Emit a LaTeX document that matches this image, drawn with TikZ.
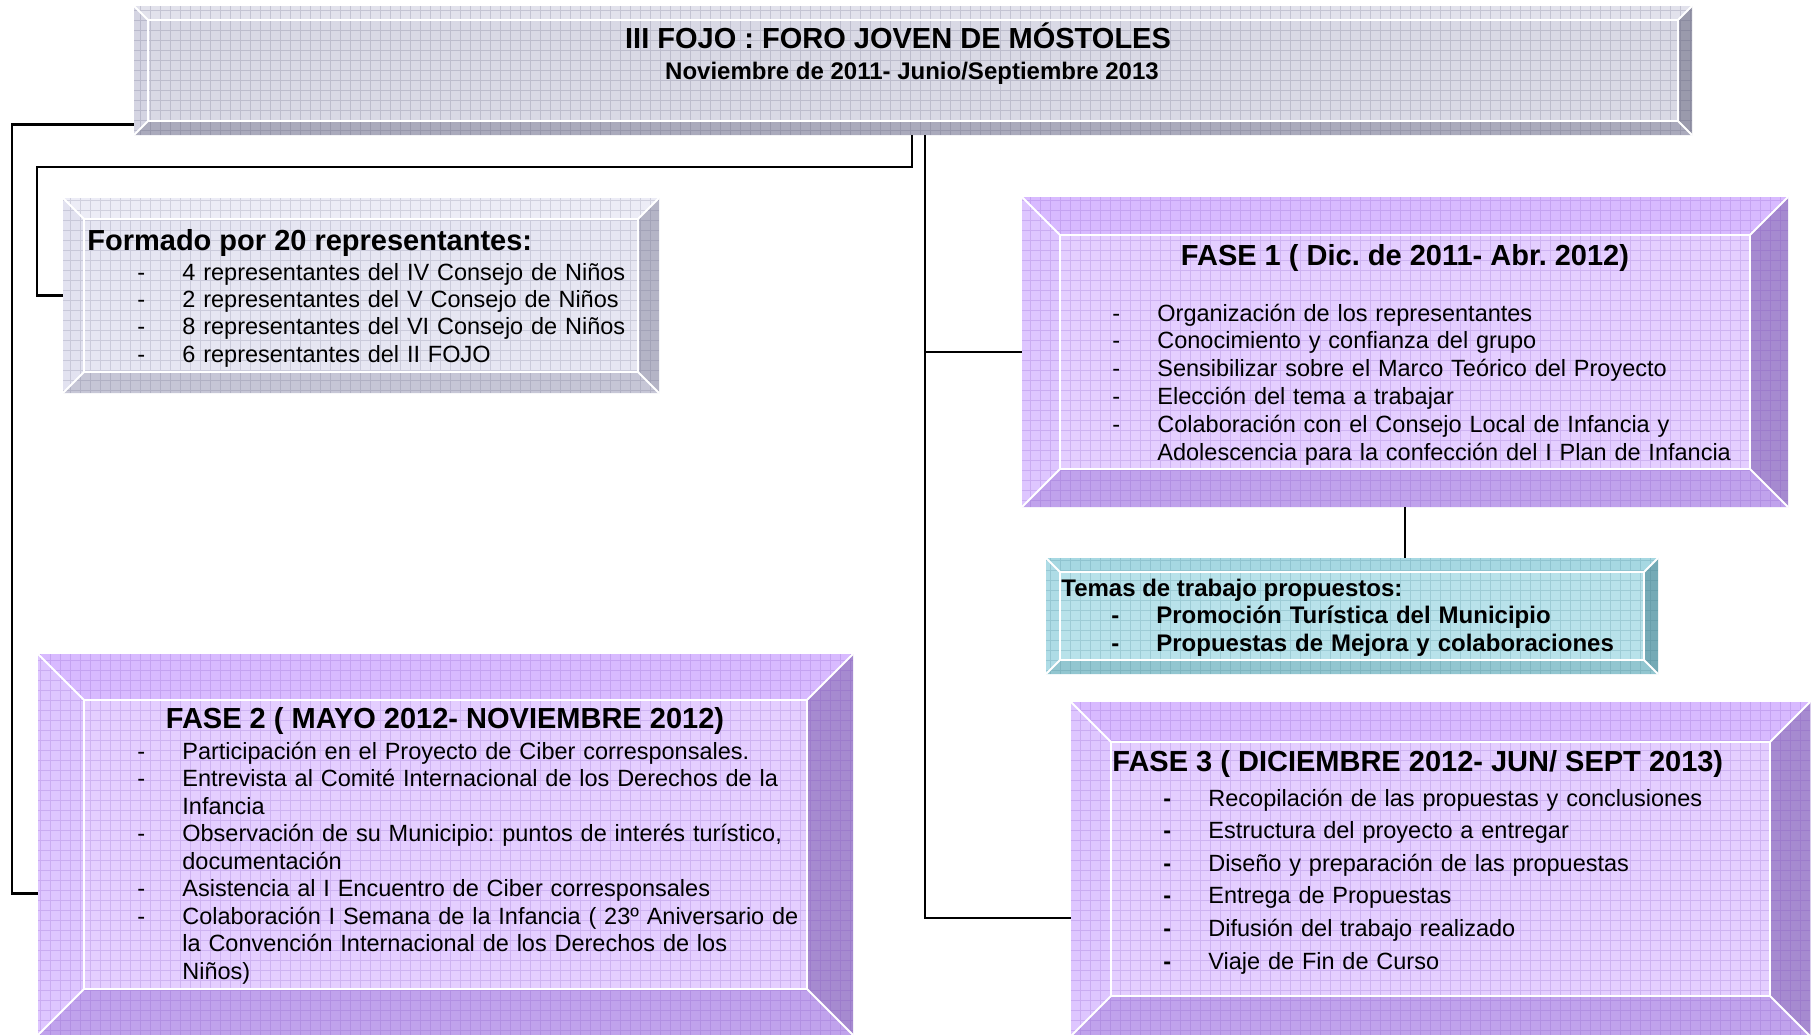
\documentclass[tikz,border=0pt]{standalone}
\usepackage{fontspec}
\setmainfont{Liberation Sans}
\usetikzlibrary{fit}
\frenchspacing

% box colours
\definecolor{grisface}{HTML}{D9D9E5}
\definecolor{gristop}{HTML}{E2E2EC}
\definecolor{grisleft}{HTML}{D4D4E2}
\definecolor{grisright}{HTML}{9A9AAC}
\definecolor{grisbottom}{HTML}{AAAABC}
\definecolor{grisgrid}{HTML}{505070}
\definecolor{paleface}{HTML}{E6E6F2}
\definecolor{paletop}{HTML}{ECECF6}
\definecolor{paleleft}{HTML}{E2E2F0}
\definecolor{paleright}{HTML}{B4B4C6}
\definecolor{palebottom}{HTML}{C6C6D6}
\definecolor{palegrid}{HTML}{606080}
\definecolor{lilaface}{HTML}{E4CEFF}
\definecolor{lilatop}{HTML}{D8BAFF}
\definecolor{lilaleft}{HTML}{DEC6FF}
\definecolor{lilaright}{HTML}{A68AD0}
\definecolor{lilabottom}{HTML}{C0A2EC}
\definecolor{lilagrid}{HTML}{7A48C0}
\definecolor{tealface}{HTML}{B8E2EA}
\definecolor{tealtop}{HTML}{A6D8E2}
\definecolor{tealleft}{HTML}{AEDCE6}
\definecolor{tealright}{HTML}{74AAB6}
\definecolor{tealbottom}{HTML}{92C6D0}
\definecolor{tealgrid}{HTML}{3A7688}

% bevelled box: name, x1, y1, x2, y2, bevel, colour set
\newcommand{\bevelbox}[7]{%
  \fill[#7face] (#2,#3) rectangle (#4,#5);
  \fill[#7top] (#2,#3) -- (#4,#3) -- ({#4-#6},{#3+#6}) -- ({#2+#6},{#3+#6}) -- cycle;
  \fill[#7left] (#2,#3) -- ({#2+#6},{#3+#6}) -- ({#2+#6},{#5-#6}) -- (#2,#5) -- cycle;
  \fill[#7right] (#4,#3) -- (#4,#5) -- ({#4-#6},{#5-#6}) -- ({#4-#6},{#3+#6}) -- cycle;
  \fill[#7bottom] (#2,#5) -- (#4,#5) -- ({#4-#6},{#5-#6}) -- ({#2+#6},{#5-#6}) -- cycle;
  \draw[#7grid, draw opacity=0.2, line width=0.35pt, xstep=10, ystep=-10] (#2,#3) grid (#4,#5);
  \draw[white, line width=1pt] ({#2+#6},{#3+#6}) rectangle ({#4-#6},{#5-#6});
  \draw[white, line width=1pt] (#2,#3) -- ({#2+#6},{#3+#6}) (#4,#3) -- ({#4-#6},{#3+#6})
    (#2,#5) -- ({#2+#6},{#5-#6}) (#4,#5) -- ({#4-#6},{#5-#6});
  \node[fit={(#2,#3) (#4,#5)}, inner sep=0] (#1) {};
}
\newcommand{\guion}{\makebox[22.5pt][l]{-}}
\newcommand{\guionb}{\makebox[22.5pt][l]{\textbf{-}}}
\newcommand{\sigue}{\hspace*{22.5pt}}

\begin{document}
\begin{tikzpicture}[x=0.5pt,y=-0.5pt,
  link/.style={draw=black, line width=1.1pt},
  head/.style={inner sep=0, font=\bfseries\fontsize{14.5}{17}\selectfont},
  subhead/.style={inner sep=0, font=\bfseries\fontsize{12}{14}\selectfont},
  items/.style={anchor=base west, inner sep=0, text width=340pt, align=left,
    font=\fontsize{11.75}{#1}\selectfont},
  items/.default=13.9pt]
\useasboundingbox (0,0) rectangle (1814,1034);
\fill[white] (0,0) rectangle (1814,1034);

% Boxes
\bevelbox{ttl}{134}{6}{1692}{135}{14}{gris}
\bevelbox{formado}{63}{198}{659}{393}{21}{pale}
\bevelbox{fase1}{1022}{197}{1788}{507}{38}{lila}
\bevelbox{temas}{1046}{558}{1658}{674}{14}{teal}
\bevelbox{fase2}{38}{654}{853}{1035}{46}{lila}
\bevelbox{fase3}{1071}{702}{1810}{1036}{40}{lila}

% Connectors
\draw[link] ([yshift=5.5pt]ttl.south west) -- ++(-122,0) |- ([yshift=-24.5pt]fase2.west);
\draw[link] ([xshift=-0.5pt]ttl.south) |- (37,167) |- (formado.west);
\draw[link] ([xshift=6pt]ttl.south) |- ([yshift=-24.5pt]fase3.west);
\draw[link] ([xshift=6pt]ttl.south |- fase1.west) -- (fase1.west);
\draw[link] (fase1.south) -- (fase1.south |- temas.north);

% Title
\node[head, anchor=base] (ttlA) at (898,48) {III FOJO : FORO JOVEN DE MÓSTOLES};
\node[subhead, anchor=base] (ttlB) at (912,79) {Noviembre de 2011- Junio/Septiembre 2013};

% Representantes
\node[head, anchor=base west] (formadoA) at (87,250) {Formado por 20 representantes:};
\node[items=13.7pt] (formadoL) at (137,280) {\guion 4 representantes del IV Consejo de Niños\\
\guion 2 representantes del V Consejo de Niños\\
\guion 8 representantes del VI Consejo de Niños\\
\guion 6 representantes del II FOJO};

% Fase 1
\node[head, anchor=base] (fase1A) at (1405,265) {FASE 1 ( Dic. de 2011- Abr. 2012)};
\node[items=13.9pt] (fase1L) at (1112,321) {\guion Organización de los representantes\\
\guion Conocimiento y confianza del grupo\\
\guion Sensibilizar sobre el Marco Teórico del Proyecto\\
\guion Elección del tema a trabajar\\
\guion Colaboración con el Consejo Local de Infancia y\\
\sigue Adolescencia para la confección del I Plan de Infancia};

% Temas
\node[subhead, anchor=base west] (temasA) at (1061,596) {Temas de trabajo propuestos:};
\node[items=14pt, font=\bfseries\fontsize{12}{14pt}\selectfont] (temasL) at (1111,623) {\guion Promoción Turística del Municipio\\
\guion Propuestas de Mejora y colaboraciones};

% Fase 2
\node[head, anchor=base] (fase2A) at (445,728) {FASE 2 ( MAYO 2012- NOVIEMBRE 2012)};
\node[items=13.75pt] (fase2L) at (137,759) {\guion Participación en el Proyecto de Ciber corresponsales.\\
\guion Entrevista al Comité Internacional de los Derechos de la\\
\sigue Infancia\\
\guion Observación de su Municipio: puntos de interés turístico,\\
\sigue documentación\\
\guion Asistencia al I Encuentro de Ciber corresponsales\\
\guion Colaboración I Semana de la Infancia ( 23º Aniversario de\\
\sigue la Convención Internacional de los Derechos de los\\
\sigue Niños)};

% Fase 3
\node[head, anchor=base west] (fase3A) at (1112,771) {FASE 3 ( DICIEMBRE 2012- JUN/ SEPT 2013)};
\node[items=16.3pt] (fase3L) at (1163,806) {\guionb Recopilación de las propuestas y conclusiones\\
\guionb Estructura del proyecto a entregar\\
\guionb Diseño y preparación de las propuestas\\
\guionb Entrega de Propuestas\\
\guionb Difusión del trabajo realizado\\
\guionb Viaje de Fin de Curso};
\end{tikzpicture}
\end{document}
